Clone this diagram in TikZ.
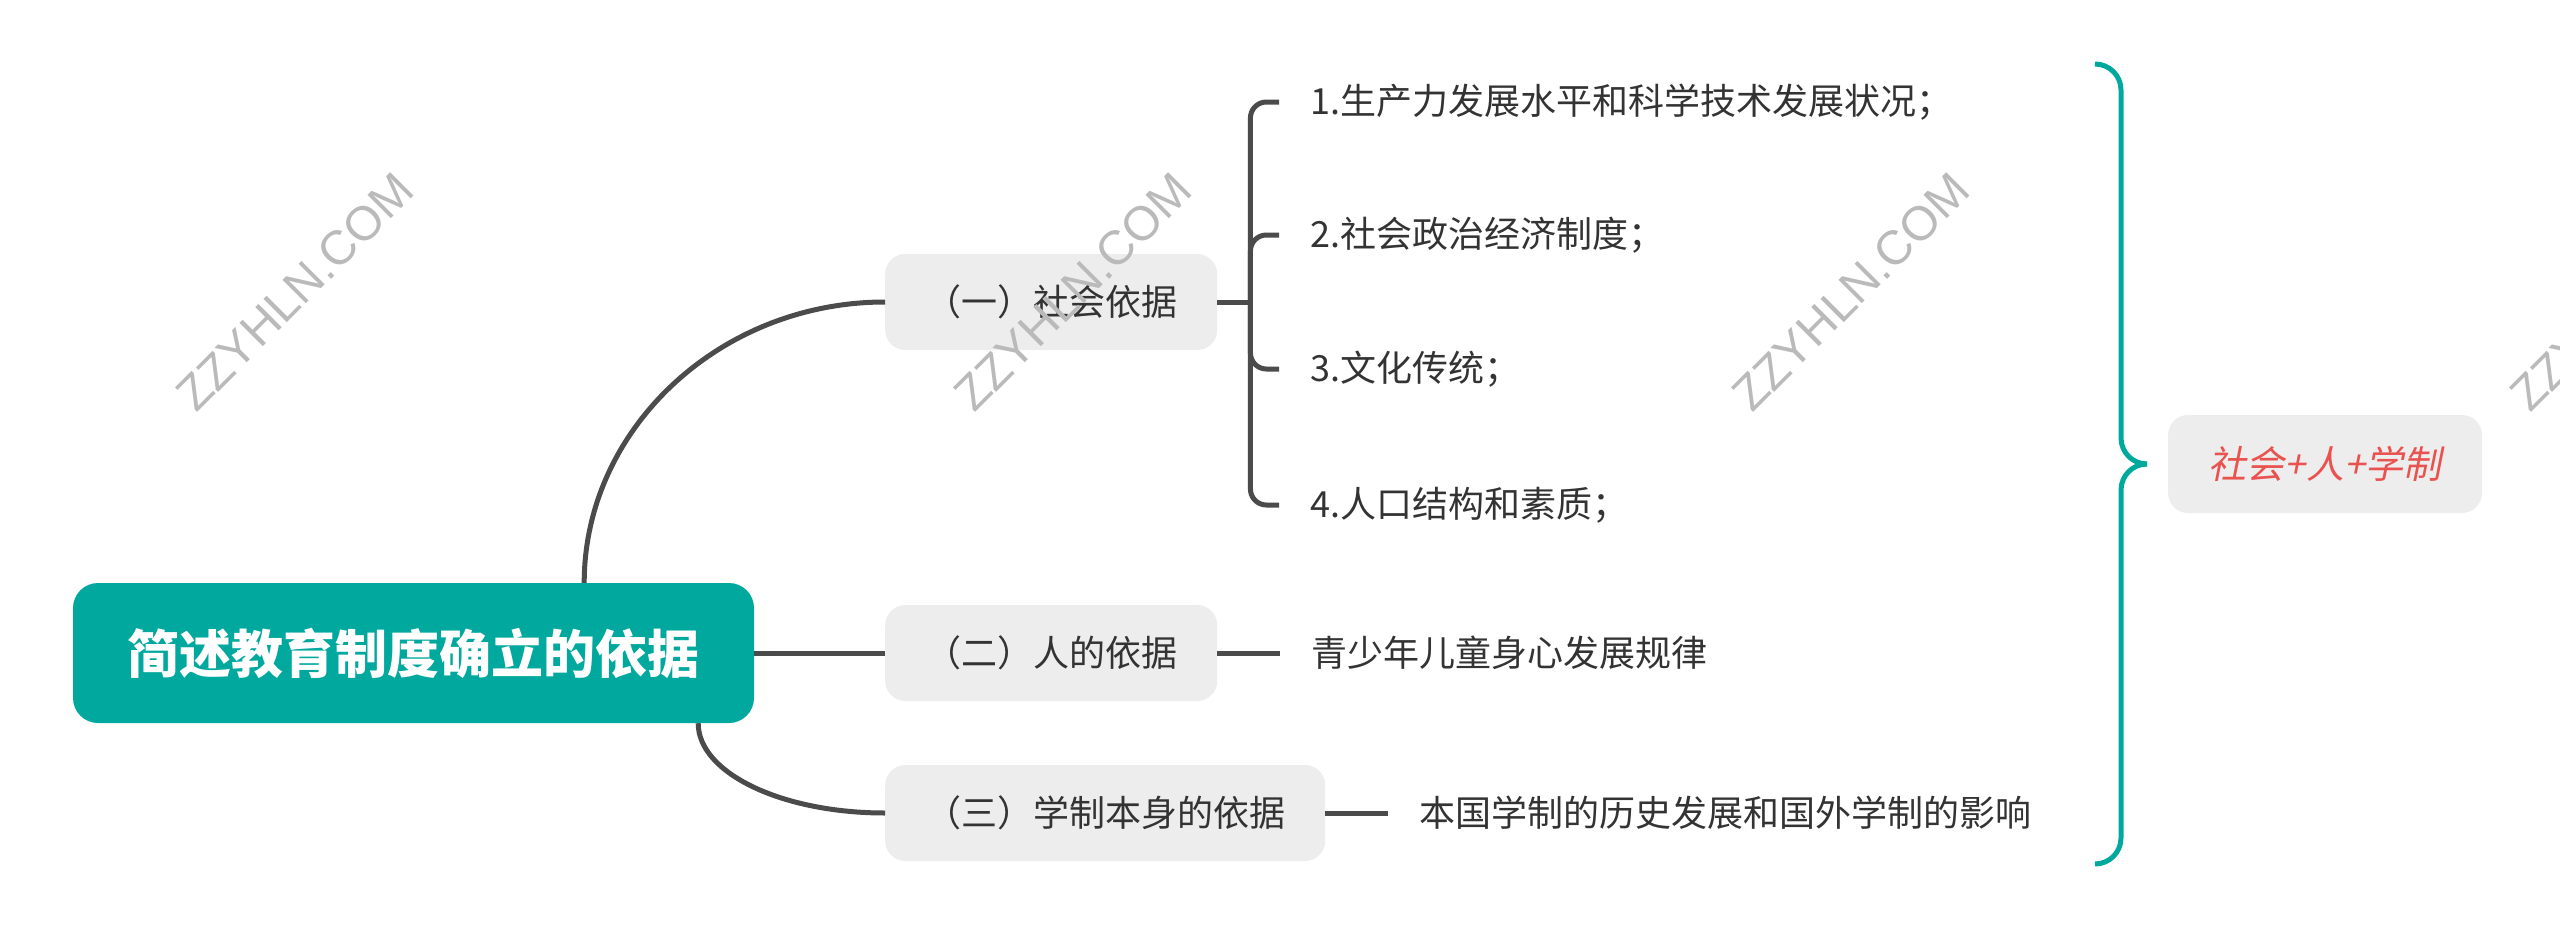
\documentclass[tikz,border=0pt]{standalone}
\usepackage{fontspec}
\setmainfont{Noto Sans CJK SC}
\newfontfamily\slantfont{Noto Sans CJK SC}[FakeSlant=0.2]
\newfontfamily\markfont{Liberation Sans}
\usetikzlibrary{calc}
\definecolor{rootteal}{HTML}{00A89D}
\definecolor{topicgray}{HTML}{EDEDED}
\definecolor{inktext}{HTML}{333333}
\definecolor{linkgray}{HTML}{4B4B4B}
\definecolor{sumred}{HTML}{E9524F}
\definecolor{markgray}{HTML}{BABABA}
\tikzset{
  rootbox/.style={fill=rootteal, text=white, rounded corners=25pt, minimum width=681pt, minimum height=140pt, font=\bfseries\fontsize{52}{56}\selectfont},
  topicbox/.style={anchor=west, fill=topicgray, text=inktext, rounded corners=20pt, inner xsep=40pt, minimum height=96pt, font=\fontsize{36}{40}\selectfont},
  leaftext/.style={anchor=west, text=inktext, inner xsep=31pt, inner ysep=0pt, font=\fontsize{36}{40}\selectfont},
  sumbox/.style={fill=topicgray, text=sumred, rounded corners=20pt, minimum width=314pt, minimum height=98pt, font=\slantfont\fontsize{38}{42}\selectfont},
  link/.style={draw=linkgray, line width=5pt},
  brace/.style={draw=rootteal, line width=5pt, rounded corners=26pt},
  watermark/.style={text=markgray, rotate=45, font=\markfont\fontsize{48}{50}\selectfont}
}

\begin{document}
\begin{tikzpicture}[x=1pt,y=-1pt]
\useasboundingbox (0,0) rectangle (2560,929);
\node[rootbox] (root) at (413.5,653) {简述教育制度确立的依据}; % Root
\node[topicbox] (social) at (885,302) {（一）社会依据}; % Topic.social
\node[topicbox] (human) at (885,653) {（二）人的依据}; % Topic.human
\node[topicbox] (school) at (885,813) {（三）学制本身的依据}; % Topic.school
\node[leaftext] (soc1) at (1279,102) {1.生产力发展水平和科学技术发展状况；}; % Leaf.social
\node[leaftext] (soc2) at (1279,235) {2.社会政治经济制度；}; % Leaf.social
\node[leaftext] (soc3) at (1279,369) {3.文化传统；}; % Leaf.social
\node[leaftext] (soc4) at (1279,505) {4.人口结构和素质；}; % Leaf.social
\node[leaftext] (hum1) at (1280,653) {青少年儿童身心发展规律}; % Leaf.human
\node[leaftext] (sch1) at (1388,813) {本国学制的历史发展和国外学制的影响}; % Leaf.school
\node[sumbox] (summary) at (2325,464) {社会+人+学制}; % Summary
\draw[link] ($(root.north east)+(-170,0)$) .. controls +(0,-153) and +(-166,0) .. (social.west); % Link.social
\draw[link] (root.east) -- (human.west); % Link.human
\draw[link] ($(root.south east)+(-56,0)$) .. controls +(0,50) and +(-103,0) .. (school.west); % Link.school
\draw[link] (social.east) -- ++(33,0) coordinate (fork); % Fork.social
\foreach \leaf in {soc1,soc2,soc3,soc4}
  \draw[link, rounded corners=16pt] (fork) |- (\leaf.west); % Fork.social
\draw[link] (human.east) -- (hum1.west); % Link.hum1
\draw[link] (school.east) -- (sch1.west); % Link.sch1
\coordinate (bracetop) at (2095,64);
\coordinate (bracetip) at (2147,464);
\coordinate (bracebot) at (2095,864);
\draw[brace] (bracetop) -- (bracetop -| 2121,0) -- (bracetip -| 2121,0) -- (bracetip); % Brace.upper
\draw[brace] (bracetip) -- (bracetip -| 2121,0) -- (bracebot -| 2121,0) -- (bracebot); % Brace.lower
\foreach \wx in {295,1073,1851,2629}
  \node[watermark] (mark\wx) at (\wx,292) {ZZYHLN.COM}; % Watermark
\end{tikzpicture}
\end{document}
